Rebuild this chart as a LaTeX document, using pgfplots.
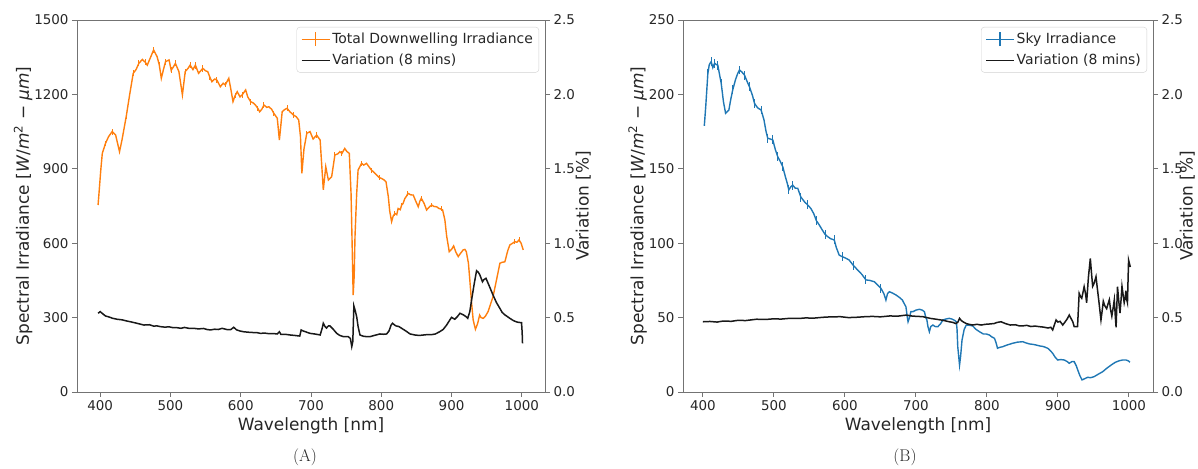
\documentclass[border=0pt]{standalone}
\usepackage{pgfplots}
\pgfplotsset{compat=1.18}
\usepackage{fontspec}
\setsansfont{DejaVu Sans}
\definecolor{myorange}{HTML}{FF7F0E}
\definecolor{myblue}{HTML}{1F77B4}
\definecolor{spine}{gray}{0.45}
\definecolor{txt}{gray}{0.15}
\pgfplotsset{
  base/.style={
    scale only axis, height=372bp,
    tick align=outside, major tick length=5bp,
    every tick/.style={spine, line width=0.8bp},
    axis line style={spine, line width=0.8bp},
    tick label style={font=\sffamily\fontsize{13.5}{14}\selectfont, text=txt},
    label style={font=\sffamily\fontsize{17}{18}\selectfont, text=txt},
    /pgf/number format/assume math mode=true,
    /pgf/number format/set thousands separator={},
    minor tick num=0,
  },
  leg/.style={
    legend style={at={(1,1)}, anchor=north east, xshift=-6bp, yshift=-7bp,
      draw=black!18, rounded corners=3bp, fill=white,
      font=\sffamily\fontsize{14}{15}\selectfont, text=txt,
      inner sep=4bp, row sep=5bp, cells={anchor=west}},
    legend image code/.code={\draw[##1] (0bp,0bp) -- (28bp,0bp);},
  },
  errleg/.style={
    legend image code/.code={\draw[draw=#1, line width=1.4bp] (0bp,0bp) -- (28bp,0bp); \draw[draw=#1, line width=1.2bp] (14bp,-7bp) -- (14bp,7bp);},
  },
  rlab/.style={ylabel style={font=\sffamily\fontsize{17}{18}\selectfont, text=txt, yshift=#1}},
}
\begin{document}
\begin{tikzpicture}
\useasboundingbox (0,0) rectangle (1198bp,469bp);
% ---------------- Panel A ----------------
\begin{axis}[base, leg, at={(77bp,77bp)}, width=468bp,
  xmin=367, xmax=1033, ymin=0, ymax=1500,
  xtick={400,500,...,1000}, ytick={0,300,...,1500},
  xtick pos=left, ytick pos=left,
  xlabel={Wavelength [nm]},
  ylabel={Spectral Irradiance [\textit{W}/\textit{m}\textsuperscript{2} − \textit{μm}]},
  ylabel style={yshift=-5bp},
  scaled y ticks=false]
\addplot[color=myorange, line width=1.4bp, errleg=myorange,
  error bars/.cd, y dir=both, y explicit, error mark=none,
  error bar style={color=myorange, line width=1bp}]
  table[x index=0, y index=1, y error index=2] {
397 754 0
401 900 0
403 962 10
407.6 1003 10
412 1030 0
417 1050 12
422 1036 0
427.5 969 0
431 1016 0
437 1110 10
442 1200 0
447 1285 12
451 1300 0
455 1325 12
460 1341 0
464 1330 12
467 1318 0
471 1345 0
476 1379 14
481 1352 0
484 1320 10
487 1265 0
490 1300 0
493 1332 12
498 1339 0
501 1298 12
504 1310 0
507 1325 12
512 1292 0
517 1198 0
521 1292 10
525 1305 0
528 1318 12
532 1300 0
535.5 1318 14
540 1285 0
546 1305 14
550 1295 0
553 1292 0
556 1270 10
559 1251 0
563 1262 0
566 1258 12
571 1231 0
575 1245 0
578 1238 10
583 1265 0
586 1220 0
589 1171 0
592 1195 10
595 1211 0
599 1190 0
602 1198 12
607 1218 0
610 1190 0
614 1171 12
618 1165 0
621 1157 0
624 1145 10
627 1130 0
630 1140 0
633 1157 12
637 1148 0
640 1150 0
644 1140 0
647 1124 10
652 1104 0
655 1016 0
659 1130 0
662 1138 0
666 1144 12
670 1130 0
675 1117 12
679 1110 0
682.5 1097 0
685 1030 0
687 882 0
690 980 0
694 1043 10
698.6 1050 0
703 1020 0
708 1036 12
713 1016 0
717.5 815 0
721 908 0
724.7 855 0
729.4 868 0
734 956 10
738 960 0
741 969 0
744 962 10
748 982 0
751 970 0
754.5 962 0
757 800 0
758.5 600 0
760 391 0
761.5 470 0
762.6 626 0
765 800 0
767 895 0
772 922 10
775 915 0
779 922 0
782 910 0
786 895 10
790 885 0
793.4 875 0
797 865 10
800.5 861 0
804 855 0
806.7 848 0
810 788 0
812 730 0
814.7 687 0
817 710 0
819.5 720 10
822 715 0
824 740 0
827 735 0
829 754 10
831 760 0
833.5 780 0
836 790 0
838 801 10
842 795 0
845.5 794 0
849 770 0
852.6 747 0
855 770 0
857 781 10
861 760 0
864.5 734 0
868 745 0
871.6 754 10
875 748 0
878.7 747 0
882 740 0
885 738 10
887.3 734 0
890.5 694 0
893 630 0
896.7 566 0
900 575 0
903 589 0
906 565 0
909.5 546 0
913 560 0
916.6 573 0
919 575 0
921 566 0
924 520 0
926 452 0
928.5 360 0
930.8 290 0
934 253 0
937 275 0
940 310 0
942 300 0
945 297 0
948 305 0
952 324 0
955 350 0
959 384 0
964 452 0
968.8 519 0
972 523 0
975.9 525 0
980 570 0
983 593 0
987 600 0
990 606 10
993 604 0
996 613 10
999 600 0
1002 573 0
};
\addlegendentry{Total Downwelling Irradiance}
\addlegendimage{black!90, line width=1.5bp}
\addlegendentry{Variation (8 mins)}
\end{axis}
\begin{axis}[base, at={(77bp,77bp)}, width=468bp,
  xmin=367, xmax=1033, ymin=0, ymax=2.5,
  axis x line=none, axis y line*=right, ytick pos=right, yticklabel pos=right,
  ylabel near ticks, rlab=6bp,
  ytick={0,0.5,...,2.5},
  yticklabel style={/pgf/number format/.cd, fixed, fixed zerofill, precision=1},
  ylabel={Variation [\%]}]
\addplot[black!90, line width=1.5bp] table {
397 0.529
400 0.540
403 0.528
407.5 0.511
412 0.505
418 0.495
424 0.489
431 0.485
438 0.477
445 0.470
452 0.462
458 0.455
462 0.450
470 0.452
476 0.443
481 0.444
486 0.439
492 0.436
498 0.438
504 0.432
509.5 0.432
515 0.428
520 0.434
526 0.428
533 0.428
540 0.424
547 0.427
552 0.42
557 0.417
563 0.422
568 0.420
573.5 0.428
580 0.420
586 0.420
590 0.435
594 0.418
599 0.410
604 0.405
610 0.402
616 0.400
623 0.399
628 0.394
634 0.396
640 0.392
646 0.393
652 0.390
655 0.405
657 0.388
663 0.388
670.6 0.383
677 0.380
684 0.376
686 0.417
689 0.410
692 0.405
698.6 0.394
705 0.390
710 0.386
713 0.383
716 0.43
717.5 0.462
720 0.440
722 0.430
725 0.445
727 0.444
731 0.425
736.6 0.394
741 0.38
746 0.372
753 0.372
756 0.36
758 0.305
759.5 0.34
761 0.578
763 0.545
765 0.506
767 0.44
769.7 0.383
775 0.374
780 0.372
784 0.372
790 0.38
798 0.39
803 0.388
807.6 0.39
811 0.41
814 0.45
816 0.462
819 0.450
821 0.444
825 0.44
829 0.428
835 0.41
841 0.390
848 0.383
854 0.380
860 0.383
866 0.386
871 0.385
877 0.39
883 0.405
888 0.42
893 0.450
897 0.48
900 0.502
904.5 0.489
908 0.505
912 0.529
917 0.518
921 0.505
923 0.495
926 0.54
928.5 0.618
932 0.72
935.6 0.815
938 0.805
940 0.79
944 0.741
946 0.755
949 0.764
953 0.72
959 0.652
964 0.60
968.8 0.562
972 0.535
976 0.518
980 0.505
983 0.495
988 0.48
992 0.472
995 0.468
999.6 0.466
1000.5 0.40
1001 0.327
};
\end{axis}
% ---------------- Panel B ----------------
\begin{axis}[base, at={(683bp,77bp)}, width=470bp,
  xmin=372, xmax=1034, ymin=0, ymax=250,
  xtick={400,500,...,1000}, ytick={0,50,...,250},
  xtick pos=left, ytick pos=left,
  xlabel={Wavelength [nm]},
  ylabel={Spectral Irradiance [\textit{W}/\textit{m}\textsuperscript{2} − \textit{μm}]},
  ylabel style={yshift=-5bp}]
\addplot[color=myblue, line width=1.4bp,
  error bars/.cd, y dir=both, y explicit, error mark=none,
  error bar style={color=myblue, line width=1bp}]
  table[x index=0, y index=1, y error index=2] {
402 178.8 0
404 191.7 0
407 214 3
409 220 0
411.7 222 3
414 218 0
416.5 221 3
419 220 0
421 219.7 3
424 212 0
425.8 207.5 3
429 195 0
432 187.3 0
436.6 189.5 0
439 196 0
442 203 3
446 210 0
449 214 0
451.6 216.4 3
455 215 0
458.6 213 3
462 209 0
465.7 205 3
470 199 0
472.7 194 3
477 191 0
482 189.5 3
486 183 0
489 175 0
491.4 170.5 3
495 170 0
498.5 169.4 3
502 163 0
505.5 158 3
509 155 0
512.5 151.4 3
516 145 0
519 140 0
521 135.8 3
524 138 0
526.6 139 3
530 137 0
533.6 136.9 0
538 131 3
543 127.9 0
547 126 3
552 123.4 0
556 120 0
560 115 3
564 112.2 0
568 109 0
572 106 3
575.8 104.4 0
580 103 0
585 102.2 3
588 97 0
592 92 0
596 91 3
601 90 0
606 88.7 0
612 85 3
618 82 0
624 79 0
629.7 75.3 3
635 75 0
641.5 74.1 0
646 72 0
650.8 69.7 3
655 66 0
657.8 61.8 0
660 66 0
662.6 67.4 0
667 66.5 0
672 65.2 0
677 63.5 0
681 61.8 0
684 59 0
686 57.3 0
688 50 0
689 47.2 0
691 50 0
693 54 0
695.8 54 0
700 55 0
705 55.6 0
709 55 0
712 54 0
714 50 0
715.5 48.4 0
717 44 0
719 40.5 0
721 44 0
724 45 0
727 44 0
731 43.9 0
735 46 0
738 48.4 0
742 49 0
747 49.5 0
751 49 0
755 48 0
757 47.2 0
758 42 0
759 30.4 0
761.5 18.1 0
763 24 0
765 34.9 0
768 42 0
771 45 0
776 44.8 0
780 44.4 0
785 42 0
789.6 40.5 0
795 39 0
799 39 0
803.6 38.3 0
807 37 0
810.7 36.1 0
813 33 0
815 29.4 0
818 30 0
822 30.4 0
828 31.5 0
836 32.7 0
843 33.5 0
850.5 33.8 0
855 33 0
860 32.3 0
865 32 0
869 31.6 0
874 31 0
880 30.5 0
885.7 29.4 0
889 28 0
892.7 26 0
896 23.5 0
899.7 21.5 0
904 21.8 0
909 21.5 0
913 20.5 0
916 19.3 0
920 20.5 0
923 20.4 0
926 17.5 0
928 14.8 0
931 11 0
934 8.1 0
938 9 0
942 9.9 0
946 9.6 0
951 10.3 0
957 12 0
963 13.6 0
969 16 0
975 18.1 0
981 20 0
986.5 21.0 0
991 21.5 0
996 21.5 0
999 21 0
1001.5 20 0
};
\end{axis}
\begin{axis}[base, leg, at={(683bp,77bp)}, width=470bp,
  xmin=372, xmax=1034, ymin=0, ymax=2.5,
  axis x line=none, axis y line*=right, ytick pos=right, yticklabel pos=right,
  ylabel near ticks, rlab=10bp,
  ytick={0,0.5,...,2.5},
  yticklabel style={/pgf/number format/.cd, fixed, fixed zerofill, precision=1},
  ylabel={Variation [\%]}]
\addlegendimage{errleg=myblue}
\addlegendentry{Sky Irradiance}
\addplot[black!90, line width=1.5bp] table {
400 0.472
410 0.474
420 0.470
428.6 0.477
440 0.475
450 0.482
460 0.480
475.5 0.489
490 0.488
500 0.492
510 0.490
522 0.495
535 0.494
545 0.498
555 0.496
569 0.502
580 0.505
594 0.506
605 0.500
616 0.502
628 0.506
639 0.508
650 0.505
663 0.511
675 0.510
686.5 0.517
695 0.51
703 0.508
710 0.506
720 0.495
728.7 0.489
738 0.482
747 0.472
752 0.468
756 0.46
759 0.468
761.5 0.495
764 0.48
767 0.47
772 0.458
780 0.450
786 0.455
792 0.45
798 0.455
803.6 0.457
810 0.46
815 0.468
820 0.472
826 0.46
833 0.45
840 0.452
845 0.445
850.5 0.444
856 0.448
862 0.44
868 0.443
874 0.439
880 0.436
886 0.43
890 0.435
892.7 0.417
895 0.45
897.5 0.484
900 0.47
903 0.475
906.9 0.45
910 0.47
913 0.49
916 0.517
919 0.49
921 0.472
923 0.439
925.6 0.439
927.7 0.44
930 0.663
932 0.64
933.6 0.63
935 0.66
937 0.708
939 0.66
940.5 0.60
943 0.77
945.7 0.898
947 0.82
949 0.71
951 0.73
953.7 0.775
955.5 0.70
957.5 0.62
960.7 0.484
962.5 0.55
964 0.61
966 0.58
968.7 0.56
970.5 0.59
972.5 0.62
974 0.56
976 0.51
978 0.57
979.5 0.62
981 0.50
982 0.435
984 0.708
986 0.60
987.5 0.53
989 0.62
990.3 0.71
992 0.65
993.4 0.60
995 0.64
995.8 0.68
997 0.62
998 0.60
999.6 0.887
1001 0.86
1002 0.84
};
\addlegendentry{Variation (8 mins)}
\end{axis}
% captions
\node[font=\fontsize{17}{17}\selectfont, text=txt] at (305bp,12bp) {(A)};
\node[font=\fontsize{17}{17}\selectfont, text=txt] at (905bp,12bp) {(B)};
\end{tikzpicture}
\end{document}
